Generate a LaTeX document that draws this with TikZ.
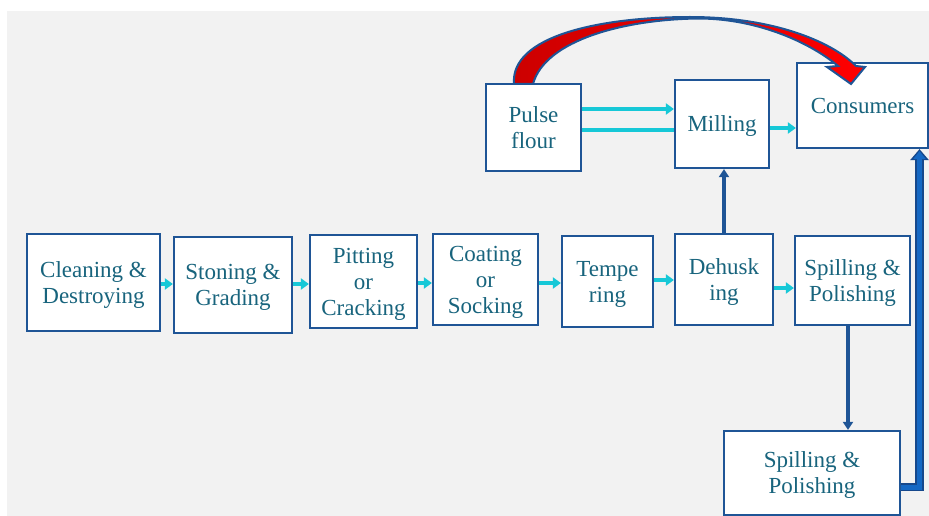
\documentclass[tikz,border=0pt]{standalone}
\usepackage{fontspec}
\setmainfont{Liberation Serif}
\usepackage{tikz}
\usetikzlibrary{arrows.meta}
\definecolor{boxblue}{RGB}{31,85,150}
\definecolor{pipeedge}{RGB}{22,72,140}
\definecolor{pipeblue}{RGB}{21,104,196}
\definecolor{textteal}{RGB}{24,100,125}
\definecolor{flowcyan}{RGB}{22,200,215}
\definecolor{panel}{RGB}{242,242,242}
\tikzstyle{stage}=[
	draw=boxblue,
	line width=2.2pt,
	fill=white,
	text=textteal,
	align=center,
	inner sep=0pt,
	text depth=0pt,
	font=\fontsize{23}{26}\selectfont
]
\tikzstyle{flow}=[
	-{Triangle[length=8pt,width=11pt]},
	draw=flowcyan,
	line width=4pt
]
\tikzstyle{feed}=[
	-{Triangle[length=8pt,width=10pt]},
	draw=boxblue,
	line width=3.5pt
]
\begin{document}
\begin{tikzpicture}[x=1pt, y=-1pt]
\useasboundingbox (0,0) rectangle (929,516);
\fill[panel] (7,11) rectangle (929,516);

\foreach \n/\x/\y/\w/\h/\lbl in {clean/93.5/282.5/133/97/{Cleaning \&\\Destroying},
        stone/233/285/118/96/{Stoning \&\\Grading},
        pit/363.5/281.5/107/93/{Pitting\\or\\Cracking},
        coat/485.5/279.5/105/91/{Coating\\or\\Socking},
        temper/607.5/281.5/91/91/{Tempe\\ring},
        dehusk/724/279.5/98/91/{Dehusk\\ing},
        spill/852.5/280.5/115/89/{Spilling \&\\Polishing},
        spillb/812/473/176/84/{Spilling \&\\Polishing},
        flour/533.5/127.5/95/87/{Pulse\\flour},
        mill/722/124/94/88/{Milling},
        cons/862.5/105.5/131/85/{Consumers}}{
    \node[stage, minimum width=\w pt, minimum height=\h pt] at (\x, \y) (\n) {\lbl};
}

% main line
\foreach \a/\b/\dy in {clean/stone/-1.5, stone/pit/1, pit/coat/-1.5,
        coat/temper/-3.5, temper/dehusk/1.5, dehusk/spill/-8.5}{
    \coordinate (o\a) at ([yshift=\dy pt]\a.east);
    \draw[flow] (o\a) -- (o\a -| \b.west);
}

\coordinate (fla) at ([yshift=18.5pt]flour.east);
\coordinate (flb) at ([yshift=-2.5pt]flour.east);
\coordinate (ml) at ([yshift=-4pt]mill.east);
\draw[flow] (fla) -- (fla -| mill.west);
\draw[draw=flowcyan, line width=4pt] (flb) -- (flb -| mill.west);
\draw[flow] (ml) -- (ml -| cons.west);

\draw[feed] (dehusk.north) -- (dehusk.north |- mill.south);
\coordinate (sp) at ([xshift=-4.5pt]spill.south);
\draw[feed] (sp) -- (sp |- spillb.north);

% back to consumers
\coordinate (pp) at ([yshift=-14pt]spillb.east);
\coordinate (pc) at ([xshift=57pt]cons.south);
\draw[draw=pipeedge, line width=8.5pt, -{Triangle[length=11pt,width=18pt]}] (pp) -| (pc);
\draw[draw=pipeblue, line width=5pt, shorten >=2pt, -{Triangle[length=8pt,width=12pt]}] (pp) -| (pc);

% curved arrow
\path[draw=boxblue, line width=2pt, left color=red!80!black, right color=red]
    (514,84) .. controls (510,36) and (600,17) .. (690,17)
    .. controls (770,17) and (830,40) .. (856,66)
    -- (865,67) -- (851,84) -- (827,67) -- (838,66)
    .. controls (812,44) and (760,19) .. (700,18.5)
    .. controls (625,19) and (545,40) .. (533,84) -- cycle;
\end{tikzpicture}
\end{document}
